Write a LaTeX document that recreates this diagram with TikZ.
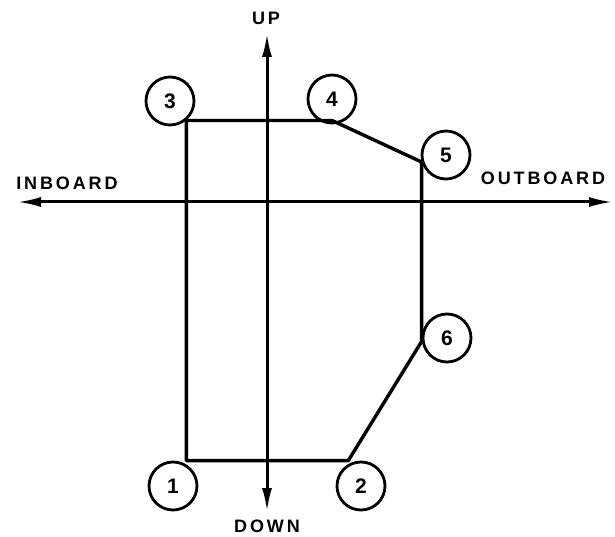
\documentclass[tikz,border=0pt]{standalone}
\usepackage{fontspec}
\setmainfont{Liberation Sans}
\newfontfamily\lblfont{Liberation Sans Bold}[LetterSpace=16]
\newfontfamily\numfont{Liberation Sans Bold}
\usetikzlibrary{arrows.meta}
\begin{document}
\begin{tikzpicture}[x=1pt,y=1pt,
  num/.style={circle,draw,line width=2.8pt,minimum size=48pt,inner sep=0pt,
    font=\numfont\fontsize{21}{21}\selectfont},
  axis/.style={line width=3pt,{Latex[length=24pt,width=10pt]}-{Latex[length=24pt,width=10pt]}},
  lbl/.style={font=\lblfont\fontsize{18}{18}\selectfont,inner sep=0pt},
  edge/.style={line width=3.4pt,line join=round}]
\useasboundingbox (0,0) rectangle (615,536);
% axes
\coordinate (ut) at (267,503);
\coordinate (dt) at (267,24);
\coordinate (lt) at (17,334);
\coordinate (rt) at (613,334);
\draw[axis] (dt) -- (ut);
\draw[axis] (lt) -- (rt);
% labels
\node[lbl] (up) at (266,518) {UP};
\node[lbl] (down) at (267,10) {DOWN};
\node[lbl] (inb) at (67,353) {INBOARD};
\node[lbl] (outb) at (543,358) {OUTBOARD};
% circles
\node[num] (c3) at (170,435) {3};
\node[num] (c4) at (332,437) {4};
\node[num] (c5) at (446,381) {5};
\node[num] (c6) at (447,198) {6};
\node[num] (c1) at (173,50) {1};
\node[num] (c2) at (361,50) {2};
% outline
\coordinate (v3) at (c3.-50);
\coordinate (v4) at (v3 -| c4);
\coordinate (v5) at (c5.196);
\coordinate (v6) at (v5 |- c6.188);
\coordinate (v1) at (v3 |- c1.north);
\coordinate (v2) at (c2.120 |- c1.north);
\draw[edge] (v3) -- (v4) -- (v5) -- (v6) -- (v2) -- (v1) -- cycle;
\end{tikzpicture}
\end{document}
